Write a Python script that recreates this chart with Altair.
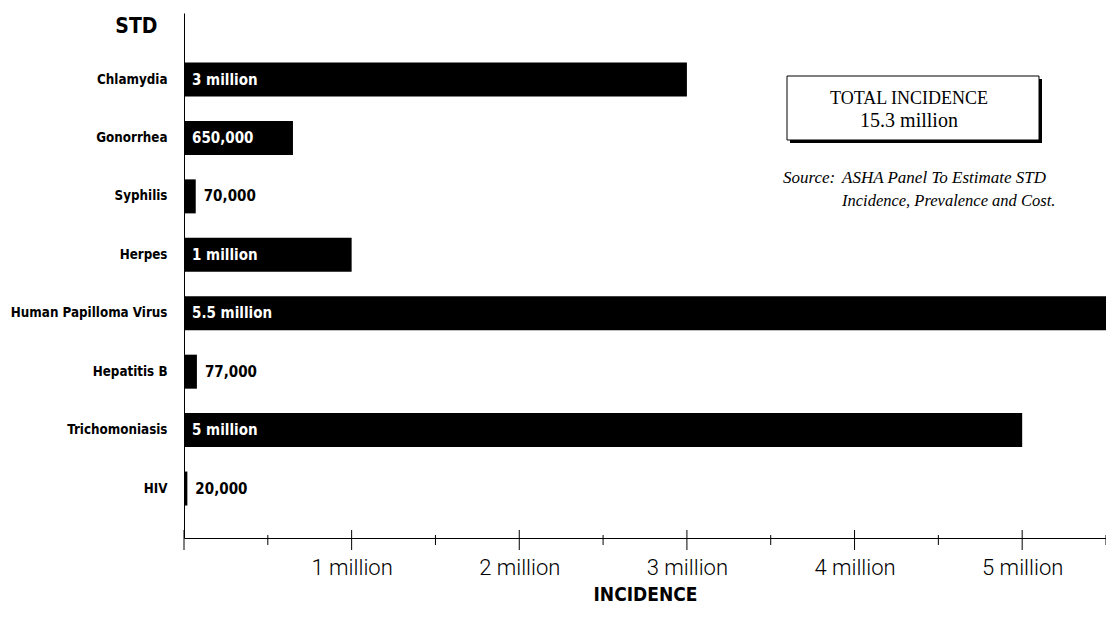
import altair as alt
import pandas as pd

# ---- data ----
stds = ["Chlamydia", "Gonorrhea", "Syphilis", "Herpes",
        "Human Papilloma Virus", "Hepatitis B", "Trichomoniasis", "HIV"]
incidence = [3000000, 650000, 70000, 1000000, 5500000, 77000, 5000000, 20000]
value_labels = ["3 million", "650,000", "70,000", "1 million",
                "5.5 million", "77,000", "5 million", "20,000"]
major_ticks = [0, 1000000, 2000000, 3000000, 4000000, 5000000]
minor_ticks = [500000, 1500000, 2500000, 3500000, 4500000, 5500000]
total_lines = ["TOTAL INCIDENCE", "15.3 million"]
source_head = ["Source:"]
source_lines = ["ASHA Panel To Estimate STD", "Incidence, Prevalence and Cost."]

# ---- styling ----
W, H = 922, 525
COND = "DejaVu Sans Condensed, DejaVu Sans, sans-serif"
LIGHT = "Roboto, DejaVu Sans Condensed, sans-serif"
SERIF = "Liberation Serif, Times New Roman, serif"

df = pd.DataFrame({"std": stds, "incidence": incidence, "label": value_labels})
df["inside"] = df["incidence"] >= 500000
df["label_x"] = df["incidence"].where(~df["inside"], 0)
df["label_color"] = df["inside"].map({True: "white", False: "black"})

xscale = alt.Scale(domain=[0, 5500000], nice=False, zero=True)
yscale = alt.Scale(paddingInner=0.418, paddingOuter=0.7015, align=0.604)

xaxis = alt.Axis(values=major_ticks[1:],
                 labelExpr="(datum.value / 1000000) + ' million'",
                 ticks=False, tickSize=0, grid=False,
                 domainColor="black", domainWidth=1,
                 labelFont=LIGHT, labelFontSize=22, labelFontWeight=300,
                 labelColor="black", labelPadding=19,
                 title="INCIDENCE", titleFont=COND, titleFontSize=19,
                 titleFontWeight="bold", titleColor="black",
                 titleY=62, titleBaseline="alphabetic")
yaxis = alt.Axis(ticks=False, tickSize=0, grid=False,
                 domainColor="black", domainWidth=1,
                 labelFont=COND, labelFontSize=13.3, labelFontWeight="bold",
                 labelColor="black", labelPadding=17, labelLimit=0,
                 title="STD", titleFont=COND, titleFontSize=21,
                 titleFontWeight="bold", titleColor="black",
                 titleAngle=0, titleAlign="right", titleBaseline="alphabetic",
                 titleX=-27, titleY=19)

bars = alt.Chart(df).mark_bar(color="black").encode(
    x=alt.X("incidence:Q", scale=xscale, axis=xaxis),
    y=alt.Y("std:N", sort=stds, scale=yscale, axis=yaxis),
)

labels = alt.Chart(df).mark_text(align="left", baseline="middle", dx=8,
                                 font=COND, fontSize=15, fontWeight="bold").encode(
    x=alt.X("label_x:Q", scale=xscale, axis=xaxis),
    y=alt.Y("std:N", sort=stds, scale=yscale, axis=yaxis),
    text="label:N",
    color=alt.Color("label_color:N", scale=None),
)

major = alt.Chart(pd.DataFrame({"v": major_ticks})).mark_rule(color="black", strokeWidth=1).encode(
    x=alt.X("v:Q", scale=xscale, axis=xaxis),
    y=alt.value(517), y2=alt.value(537),
)
minor = alt.Chart(pd.DataFrame({"v": minor_ticks})).mark_rule(color="black", strokeWidth=1).encode(
    x=alt.X("v:Q", scale=xscale, axis=xaxis),
    y=alt.value(522), y2=alt.value(532),
)

dummy = pd.DataFrame({"a": [0]})
shadow = alt.Chart(dummy).mark_rect(color="black").encode(
    x=alt.value(606), x2=alt.value(858), y=alt.value(66), y2=alt.value(130))
box = alt.Chart(dummy).mark_rect(fill="white", stroke="black", strokeWidth=1).encode(
    x=alt.value(603), x2=alt.value(855), y=alt.value(63), y2=alt.value(127))

tot1 = alt.Chart(pd.DataFrame({"t": total_lines[:1]})).mark_text(
    font=SERIF, fontSize=18, align="center", baseline="alphabetic", color="black").encode(
    x=alt.value(725), y=alt.value(91), text="t:N")
tot2 = alt.Chart(pd.DataFrame({"t": total_lines[1:]})).mark_text(
    font=SERIF, fontSize=20, align="center", baseline="alphabetic", color="black").encode(
    x=alt.value(725), y=alt.value(114), text="t:N")

src0 = alt.Chart(pd.DataFrame({"t": source_head})).mark_text(
    font=SERIF, fontSize=17, fontStyle="italic", align="left", baseline="alphabetic", color="black").encode(
    x=alt.value(599), y=alt.value(170), text="t:N")
src1 = alt.Chart(pd.DataFrame({"t": source_lines[:1]})).mark_text(
    font=SERIF, fontSize=17, fontStyle="italic", align="left", baseline="alphabetic", color="black").encode(
    x=alt.value(658), y=alt.value(170), text="t:N")
src2 = alt.Chart(pd.DataFrame({"t": source_lines[1:]})).mark_text(
    font=SERIF, fontSize=16.5, fontStyle="italic", align="left", baseline="alphabetic", color="black").encode(
    x=alt.value(658), y=alt.value(193), text="t:N")

chart = alt.layer(bars, labels, major, minor, shadow, box, tot1, tot2, src0, src1, src2).properties(
    width=W, height=H,
    padding={"left": 176, "top": 5, "right": 0, "bottom": 67},
    autosize=alt.AutoSizeParams(type="none"),
    background="white",
).configure_view(stroke=None)

chart.save("out.html", embed_options={"renderer": "svg", "actions": False})
